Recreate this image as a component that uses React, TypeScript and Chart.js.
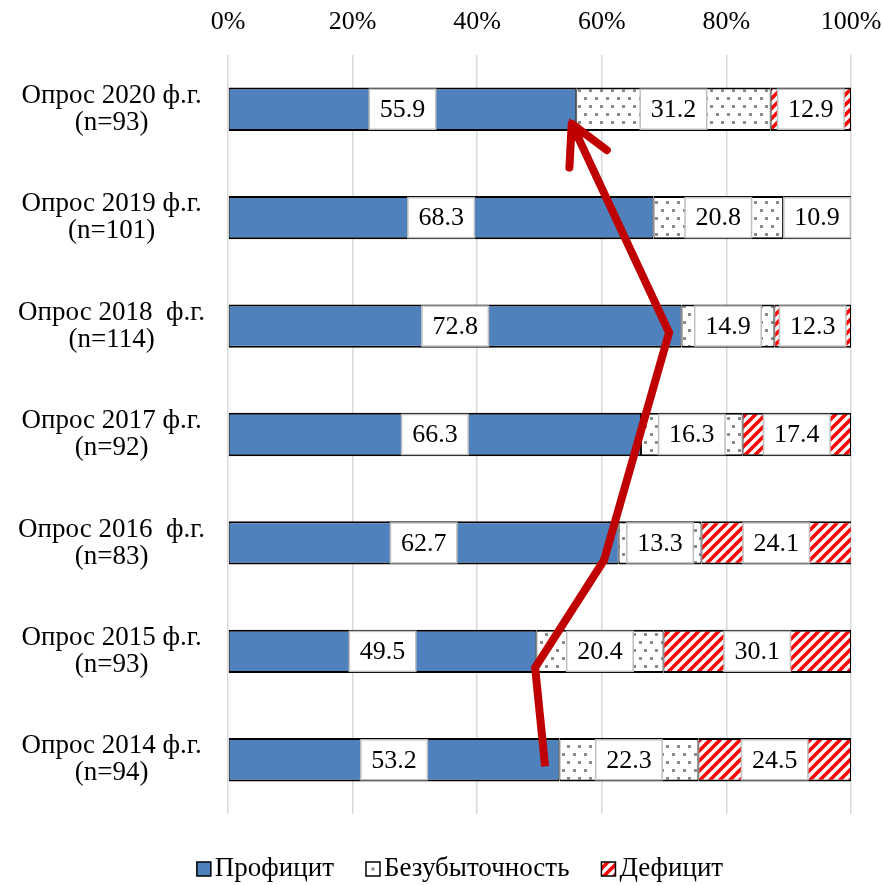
import React, { useEffect, useRef } from 'react';
import { Chart, registerables } from 'chart.js';

Chart.register(...registerables);

const categories: string[][] = [
  ['Опрос 2020 ф.г.', '(n=93)'],
  ['Опрос 2019 ф.г.', '(n=101)'],
  ['Опрос 2018  ф.г.', '(n=114)'],
  ['Опрос 2017 ф.г.', '(n=92)'],
  ['Опрос 2016  ф.г.', '(n=83)'],
  ['Опрос 2015 ф.г.', '(n=93)'],
  ['Опрос 2014 ф.г.', '(n=94)'],
];

const seriesNames = ['Профицит', 'Безубыточность', 'Дефицит'];
const profit = [55.9, 68.3, 72.8, 66.3, 62.7, 49.5, 53.2];
const breakeven = [31.2, 20.8, 14.9, 16.3, 13.3, 20.4, 22.3];
const deficit = [12.9, 10.9, 12.3, 17.4, 24.1, 30.1, 24.5];

const xTickLabels = ['0%', '20%', '40%', '60%', '80%', '100%'];

// Trend arrow path: x in percent, y in category index (0 = top row)
const arrowX = [50.9, 49.3, 60.35, 70.8, 54.9];
const arrowY = [6.06, 5.15, 4.16, 2.06, 0.1];

const FONT = '"Liberation Serif", "Times New Roman", serif';
const BLUE = '#4F81BD';
const RED = '#FF0000';
const ARROW_RED = '#C00000';
const LEGEND_CENTER_X = 460;
const LEGEND_Y = 869;

function makeDots(): CanvasPattern | string {
  const c = document.createElement('canvas');
  c.width = 11;
  c.height = 16;
  const g = c.getContext('2d');
  if (!g) return '#fff';
  g.fillStyle = '#ffffff';
  g.fillRect(0, 0, 11, 16);
  g.fillStyle = '#8a8a8a';
  g.fillRect(1, 1, 3, 3);
  g.fillRect(6, 9, 3, 3);
  return g.createPattern(c, 'repeat') as CanvasPattern;
}

function makeStripes(): CanvasPattern | string {
  const c = document.createElement('canvas');
  c.width = 10;
  c.height = 10;
  const g = c.getContext('2d');
  if (!g) return RED;
  g.fillStyle = '#ffffff';
  g.fillRect(0, 0, 10, 10);
  g.strokeStyle = RED;
  g.lineWidth = 3.6;
  g.beginPath();
  g.moveTo(-2, 12);
  g.lineTo(12, -2);
  g.moveTo(-2, 2);
  g.lineTo(2, -2);
  g.moveTo(8, 12);
  g.lineTo(12, 8);
  g.stroke();
  return g.createPattern(c, 'repeat') as CanvasPattern;
}

const labelPlugin = {
  id: 'valueLabels',
  afterDatasetsDraw(chart: any) {
    const ctx = chart.ctx;
    ctx.save();
    ctx.font = `26px ${FONT}`;
    ctx.textAlign = 'center';
    ctx.textBaseline = 'middle';
    chart.data.datasets.forEach((ds: any, i: number) => {
      const meta = chart.getDatasetMeta(i);
      meta.data.forEach((el: any, j: number) => {
        const v = ds.data[j];
        const p = el.getProps(['x', 'y', 'base'], true);
        const cx = (Math.min(p.x, chart.chartArea.right) + p.base) / 2;
        const cy = p.y;
        const txt = v.toFixed(1);
        const w = ctx.measureText(txt).width + 21;
        const h = 40;
        ctx.fillStyle = '#ffffff';
        ctx.fillRect(cx - w / 2, cy - h / 2, w, h);
        ctx.strokeStyle = '#BFBFBF';
        ctx.lineWidth = 1.5;
        ctx.strokeRect(cx - w / 2, cy - h / 2, w, h);
        ctx.fillStyle = '#000000';
        ctx.fillText(txt, cx, cy + 1);
      });
    });
    ctx.restore();
  },
};

const arrowPlugin = {
  id: 'trendArrow',
  afterDatasetsDraw(chart: any) {
    const ctx = chart.ctx;
    const xs = chart.scales.x;
    const ys = chart.scales.y;
    const pts = arrowX.map((v, i) => ({ x: xs.getPixelForValue(v), y: ys.getPixelForValue(arrowY[i]) }));
    ctx.save();
    ctx.strokeStyle = ARROW_RED;
    ctx.fillStyle = ARROW_RED;
    ctx.lineWidth = 8;
    ctx.lineJoin = 'miter';
    ctx.lineCap = 'butt';
    const tip = pts[pts.length - 1];
    const prev = pts[pts.length - 2];
    const dx = prev.x - tip.x;
    const dy = prev.y - tip.y;
    const len = Math.hypot(dx, dy);
    const ux = dx / len;
    const uy = dy / len;
    ctx.beginPath();
    ctx.moveTo(pts[0].x, pts[0].y);
    for (let i = 1; i < pts.length - 1; i++) ctx.lineTo(pts[i].x, pts[i].y);
    ctx.lineTo(tip.x + ux * 10, tip.y + uy * 10);
    ctx.stroke();
    const ang = Math.atan2(uy, ux);
    const a = (28 * Math.PI) / 180;
    const L = 44;
    const t2x = tip.x + ux * 4;
    const t2y = tip.y + uy * 4;
    const lx = t2x + Math.cos(ang + a) * L;
    const ly = t2y + Math.sin(ang + a) * L;
    const rx = t2x + Math.cos(ang - a) * L;
    const ry = t2y + Math.sin(ang - a) * L;
    ctx.lineCap = 'round';
    ctx.lineJoin = 'round';
    ctx.beginPath();
    ctx.moveTo(lx, ly);
    ctx.lineTo(t2x, t2y);
    ctx.lineTo(rx, ry);
    ctx.stroke();
    ctx.beginPath();
    ctx.moveTo(tip.x - ux * 2, tip.y - uy * 2);
    ctx.lineTo(tip.x + Math.cos(ang + a) * 24, tip.y + Math.sin(ang + a) * 24);
    ctx.lineTo(tip.x + Math.cos(ang - a) * 24, tip.y + Math.sin(ang - a) * 24);
    ctx.closePath();
    ctx.fill();
    ctx.restore();
  },
};

const legendPlugin = {
  id: 'customLegend',
  afterDraw(chart: any) {
    const ctx = chart.ctx;
    ctx.save();
    ctx.font = `27px ${FONT}`;
    ctx.textBaseline = 'middle';
    ctx.textAlign = 'left';
    const box = 14;
    const gap = 4;
    const spacing = 32;
    const widths = seriesNames.map((n) => ctx.measureText(n).width);
    const total = widths.reduce((acc, w) => acc + box + gap + w, 0) + spacing * (seriesNames.length - 1);
    let x = LEGEND_CENTER_X - total / 2;
    const cy = LEGEND_Y;
    seriesNames.forEach((name, i) => {
      const ds = chart.data.datasets[i];
      const bx = x;
      const by = cy - box / 2;
      if (i === 1) {
        ctx.fillStyle = '#ffffff';
        ctx.fillRect(bx, by, box, box);
        ctx.fillStyle = '#8a8a8a';
        ctx.fillRect(bx + box / 2 - 1.5, by + box / 2 - 1.5, 3, 3);
      } else {
        ctx.fillStyle = ds.backgroundColor;
        ctx.fillRect(bx, by, box, box);
      }
      ctx.strokeStyle = '#000000';
      ctx.lineWidth = 1.5;
      ctx.strokeRect(bx, by, box, box);
      ctx.fillStyle = '#000000';
      ctx.fillText(name, bx + box + gap, cy);
      x += box + gap + widths[i] + spacing;
    });
    ctx.restore();
  },
};

export default function App() {
  const ref = useRef<HTMLCanvasElement | null>(null);

  useEffect(() => {
    if (!ref.current) return;
    const dots = makeDots();
    const stripes = makeStripes();
    const border = { top: 2, bottom: 2, left: 1, right: 1 };
    const chart = new Chart(ref.current, {
      type: 'bar',
      data: {
        labels: categories,
        datasets: [
          { label: seriesNames[0], data: profit, backgroundColor: BLUE, borderColor: '#000', borderWidth: border, borderSkipped: false },
          { label: seriesNames[1], data: breakeven, backgroundColor: dots, borderColor: '#000', borderWidth: border, borderSkipped: false },
          { label: seriesNames[2], data: deficit, backgroundColor: stripes, borderColor: '#000', borderWidth: border, borderSkipped: false },
        ] as any,
      },
      options: {
        indexAxis: 'y',
        responsive: false,
        animation: false,
        devicePixelRatio: 1,
        layout: { padding: { top: 0, left: 0, right: 32, bottom: 71 } },
        datasets: { bar: { barPercentage: 0.4, categoryPercentage: 1 } },
        plugins: {
          legend: { display: false },
          tooltip: { enabled: false },
        },
        scales: {
          x: {
            position: 'top',
            stacked: true,
            min: 0,
            max: 100,
            afterFit: (s: any) => {
              s.height = 55;
              s.paddingLeft = 0;
              s.paddingRight = 0;
            },
            grid: { color: '#D9D9D9', lineWidth: 1.5, drawTicks: false },
            border: { display: false },
            ticks: {
              stepSize: 20,
              padding: 17,
              color: '#000',
              font: { family: FONT, size: 26 },
              callback: (_v: any, i: number) => xTickLabels[i],
            },
          },
          y: {
            stacked: true,
            afterFit: (s: any) => {
              s.width = 228;
              s.paddingTop = 0;
              s.paddingBottom = 0;
            },
            grid: { display: false },
            border: { display: false },
            ticks: {
              crossAlign: 'center',
              padding: 15,
              color: '#000',
              font: { family: FONT, size: 27, lineHeight: 1.0 },
            },
          },
        },
      } as any,
      plugins: [labelPlugin, arrowPlugin, legendPlugin],
    });
    return () => chart.destroy();
  }, []);

  return (
    <div style={{ position: 'fixed', left: 0, top: 0, width: 883, height: 885, background: '#fff' }}>
      <canvas ref={ref} width={883} height={885} />
    </div>
  );
}
